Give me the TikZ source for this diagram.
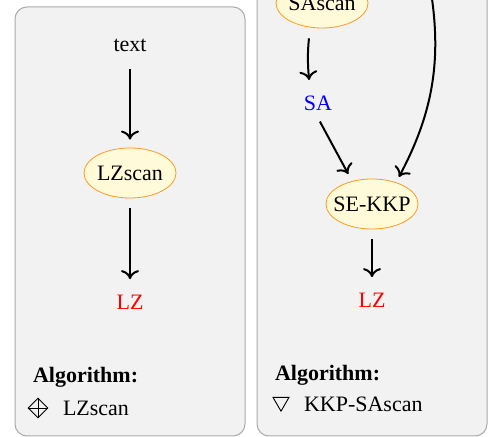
\documentclass[tikz,border=0pt]{standalone}
\usepackage{fontspec}
\setmainfont{Liberation Serif}
\usepackage{tikz}
\usetikzlibrary{shapes.geometric,arrows.meta}
\definecolor{panelgray}{HTML}{F2F2F2}
\definecolor{panelline}{HTML}{ABABAB}
\definecolor{algofill}{HTML}{FFFAD8}
\definecolor{algoline}{HTML}{FF9B22}
\tikzset{
  panel/.style={draw=panelline,fill=panelgray,line width=0.5pt,rounded corners=6pt},
  algo/.style={ellipse,draw=algoline,fill=algofill,line width=0.4pt,inner xsep=-3pt,inner ysep=0pt,minimum width=46pt,minimum height=25pt},
  data/.style={inner sep=3.33pt},
  arr/.style={-{To[length=4.5pt,width=9pt]}},
  flow/.style={arr,shorten >=4pt,shorten <=5pt},
  legend/.style={anchor=base west,inner sep=0pt},
  legmark/.style={draw,line width=0.45pt,inner sep=0pt}
}

\begin{document}
\begin{tikzpicture}[x=0.5pt,y=0.5pt,line width=1pt,font=\fontsize{11}{13}\selectfont]
  \useasboundingbox (0,0) rectangle (492,-437);
  \clip (0,0) rectangle (492,-437);

  \draw[panel] (15,-7) rectangle (245,-436);
  \draw[panel] (257,40) rectangle (487,-436);

  % LZscan
  \node[data] at (130,-45) (txt) {text};
  \node[algo] at ([yshift=-64pt]txt) (lzscan) {LZscan};
  \node[data,text=red] at ([yshift=-64.5pt]lzscan) (lz) {LZ};
  \draw [flow] (txt) -- (lzscan);
  \draw [flow] (lzscan) -- (lz);

  \node[legend,font=\fontsize{11}{13}\selectfont\bfseries] at (32,-383) (alg) {Algorithm:};
  \node[legmark,diamond,minimum width=10pt,minimum height=10pt] at (38,-408) (mkd) {};
  \draw[line width=0.45pt] (mkd.north) -- (mkd.south) (mkd.west) -- (mkd.east);
  \node[legend] at (62,-416) (algname) {LZscan};

  % KKP-SAscan
  \coordinate (src) at (426,35);
  \node[algo] at (322,-3) (sascan) {SAscan};
  \node[data,text=blue] at ([xshift=-2pt,yshift=-50pt]sascan) (sa) {SA};
  \node[algo] at ([xshift=27pt,yshift=-50.5pt]sa) (sekkp) {SE-KKP};
  \node[data,text=red] at ([yshift=-48pt]sekkp) (lzr) {LZ};
  \draw [flow] ([xshift=-6pt]sascan.south) to[bend right=6] ([xshift=-4pt]sa.north);
  \draw [flow,shorten <=2pt] (sa.south) -- (sekkp.131);
  \draw [arr,shorten >=3pt] (src) to[out=-78,in=62] (sekkp.42);
  \draw [flow] (sekkp) -- (lzr);

  \node[legend,font=\fontsize{11}{13}\selectfont\bfseries] at (274,-381) (algr) {Algorithm:};
  \node[legmark,regular polygon,regular polygon sides=3,shape border rotate=180,minimum size=9.2pt] at (281,-402) (mkt) {};
  \node[legend] at (303,-412) (algrname) {KKP-SAscan};
\end{tikzpicture}
\end{document}
